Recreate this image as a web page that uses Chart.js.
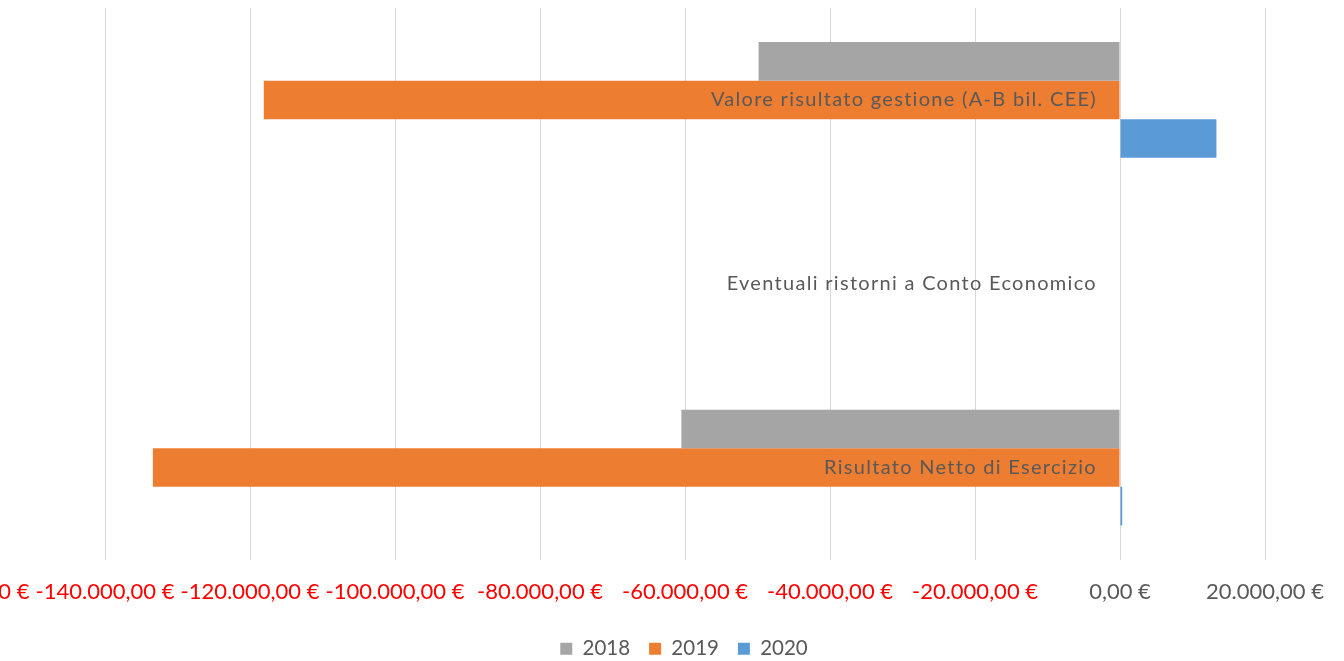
<!DOCTYPE html>
<html>
<head>
<meta charset="utf-8">
<script src="https://cdn.jsdelivr.net/npm/chart.js@4.4.1/dist/chart.umd.min.js"></script>
<style>
  html, body { margin: 0; padding: 0; background: #fff; overflow: hidden; width: 1344px; height: 661px; }
  /* the plot runs past the left edge, so the holder is wider than the page */
  #holder { position: absolute; left: -140px; top: 0; width: 1648px; height: 669px; }
</style>
</head>
<body>
<div id="holder"><canvas id="cnv"></canvas></div>
<script>
var categories = ['Valore risultato gestione (A-B bil. CEE)', 'Eventuali ristorni a Conto Economico', 'Risultato Netto di Esercizio'];
var years = ['2018', '2019', '2020'];
var values2018 = [-49850, 0, -60500];
var values2019 = [-118100, 0, -133400];
var values2020 = [13300, 0, 300];
var axisMin = -160000, axisMax = 20000, axisStep = 20000;

var colors = ['#A5A5A5', '#ED7D31', '#5B9BD5'];
var txtColor = '#595959';
var fontName = 'Lato';

function euro(v) {
	var neg = v < 0;
	var parts = Math.abs(v).toFixed(2).split('.');
	var intPart = parts[0].replace(/\B(?=(\d{3})+(?!\d))/g, '.');
	return (neg ? '-' : '') + intPart + ',' + parts[1] + ' €';
}

// category names sit inside the plot, right-aligned just left of zero
var categoryLabels = {
	id: 'categoryLabels',
	afterDatasetsDraw: function(chart) {
		var ctx = chart.ctx, x = chart.scales.x, y = chart.scales.y;
		ctx.save();
		ctx.font = '20px ' + fontName;
		ctx.letterSpacing = '1.3px';
		ctx.fillStyle = txtColor;
		ctx.textAlign = 'right';
		ctx.textBaseline = 'middle';
		for (var i = 0; i < categories.length; i++) {
			ctx.fillText(categories[i], x.getPixelForValue(0) - 23, y.getPixelForValue(i));
		}
		ctx.restore();
	}
};

var series = [values2018, values2019, values2020];
var datasets = [];
for (var i = 0; i < years.length; i++) {
	datasets.push({
		label: years[i],
		data: series[i],
		backgroundColor: colors[i],
		borderWidth: 0,
		categoryPercentage: 0.629,
		barPercentage: 1.0
	});
}

new Chart(document.getElementById('cnv').getContext('2d'), {
	type: 'bar',
	data: { labels: categories, datasets: datasets },
	plugins: [categoryLabels],
	options: {
		indexAxis: 'y',
		responsive: true,
		maintainAspectRatio: false,
		animation: false,
		layout: { padding: { top: 8, bottom: 0, left: 0, right: 0 } },
		scales: {
			x: {
				min: axisMin,
				max: axisMax,
				border: { display: false },
				grid: { color: '#D9D9D9', lineWidth: 1, drawTicks: false },
				ticks: {
					stepSize: axisStep,
					padding: 19,
					maxRotation: 0,
					autoSkip: false,
					font: { family: fontName, size: 22 },
					color: function(c) { return c.tick && c.tick.value < 0 ? '#FF0000' : txtColor; },
					callback: function(v) { return euro(v); }
				},
				afterFit: function(s) { s.height = 60; }
			},
			y: {
				border: { display: false },
				grid: { display: false },
				ticks: { display: false },
				afterFit: function(s) { s.width = 100; }
			},
			// empty spacer on the right keeps the legend centred under the whole figure
			y2: {
				type: 'category',
				position: 'right',
				border: { display: false },
				grid: { display: false },
				ticks: { display: false },
				afterFit: function(s) { s.width = 243; }
			}
		},
		plugins: {
			legend: {
				position: 'bottom',
				labels: {
					boxWidth: 12,
					boxHeight: 12,
					padding: 19,
					color: txtColor,
					font: { family: fontName, size: 20.5 }
				}
			},
			tooltip: { enabled: false }
		}
	}
});
</script>
</body>
</html>
